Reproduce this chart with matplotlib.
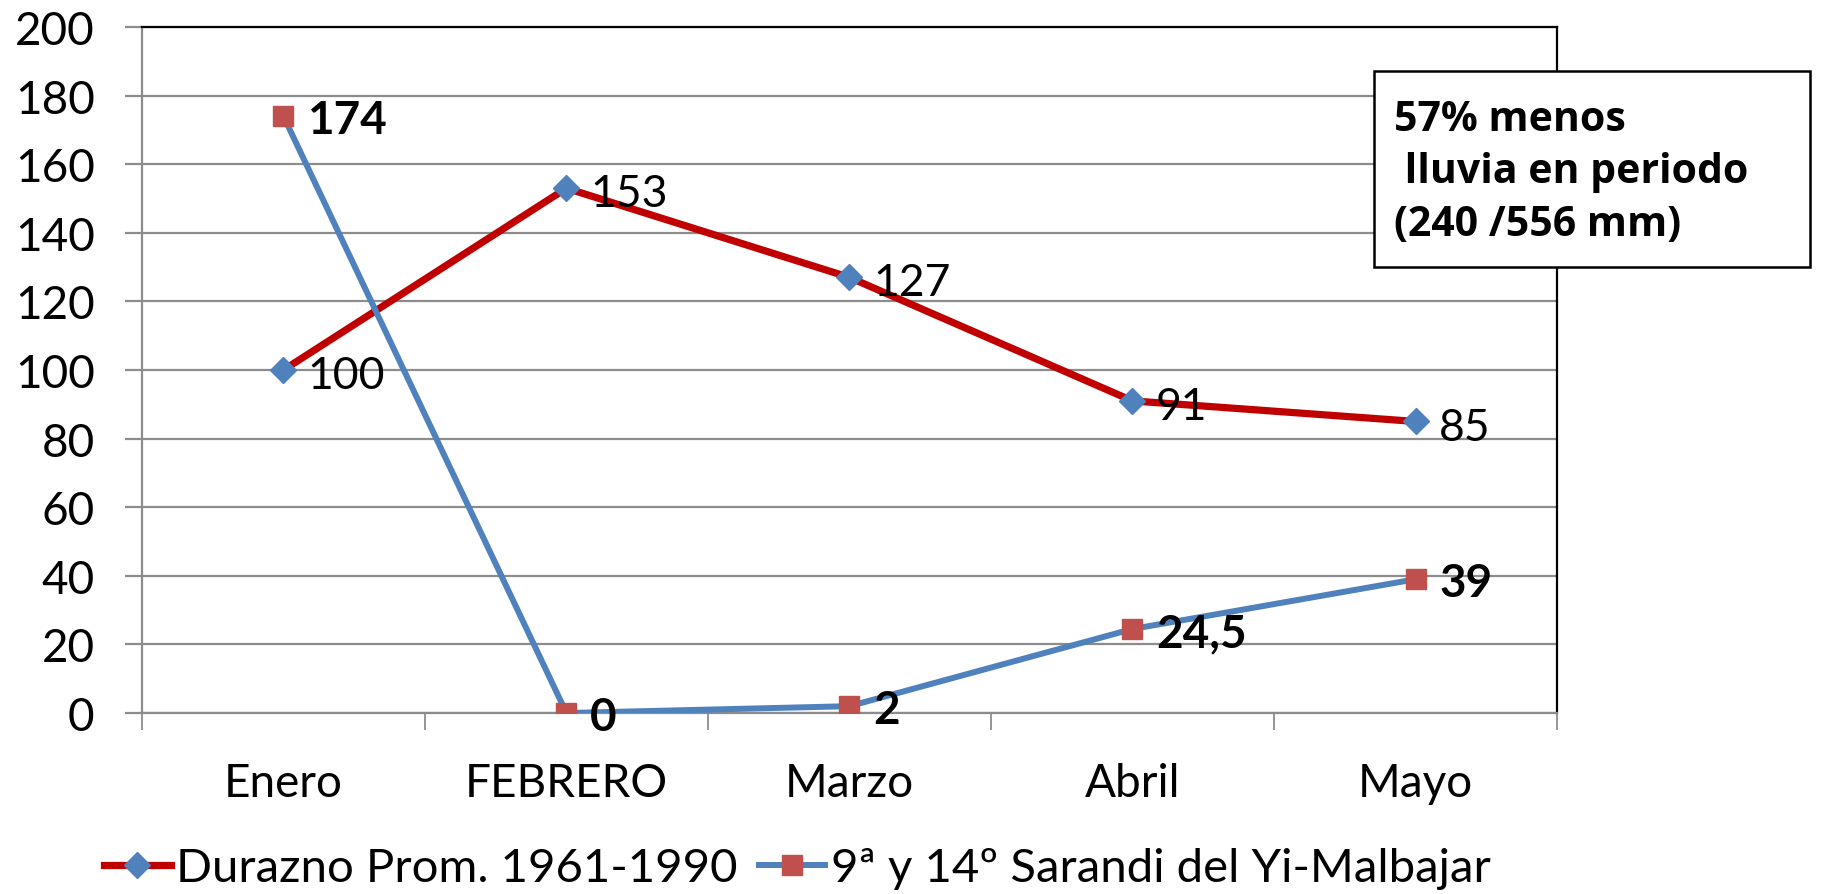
import matplotlib.pyplot as plt
from matplotlib.lines import Line2D
from matplotlib.patches import Rectangle
import numpy as np

plt.rcParams['font.family'] = ['Lato', 'DejaVu Sans']

# datos
meses = ['Enero', 'FEBRERO', 'Marzo', 'Abril', 'Mayo']
durazno = [100, 153, 127, 91, 85]
sarandi = [174, 0, 2, 24.5, 39]
etiq_durazno = ['100', '153', '127', '91', '85']
etiq_sarandi = ['174', '0', '2', '24,5', '39']
yticks = [0, 20, 40, 60, 80, 100, 120, 140, 160, 180, 200]

fig = plt.figure(figsize=(18.29, 8.95), dpi=100)
ax = fig.add_axes([0.0776, 0.2022, 0.7737, 0.7665])

x = np.arange(len(meses))

ax.plot(x, durazno, color='#C00000', lw=5.2, marker='D', ms=13,
        mfc='#4F81BD', mec='#4F81BD', zorder=3)
ax.plot(x, sarandi, color='#4F81BD', lw=4.3, marker='s', ms=14,
        mfc='#C0504D', mec='#C0504D', zorder=4)

for xi, v, t in zip(x, durazno, etiq_durazno):
    ax.annotate(t, (xi, v), xytext=(17, -4), textcoords='offset points',
                ha='left', va='center', fontsize=32, zorder=5)
for xi, v, t in zip(x, sarandi, etiq_sarandi):
    ax.annotate(t, (xi, v), xytext=(17, -3), textcoords='offset points',
                ha='left', va='center', fontsize=33, fontweight='bold', zorder=5)

ax.set_xlim(-0.5, len(meses) - 0.5)
ax.set_ylim(0, 200)
ax.set_yticks(yticks)
ax.yaxis.grid(True, color='#8C8C8C', lw=1.6)
ax.set_axisbelow(True)

ax.set_xticks(x)
ax.set_xticklabels(meses)
ax.set_xticks(np.arange(-0.5, len(meses)), minor=True)
ax.tick_params(axis='x', which='major', length=0, pad=35, labelsize=33)
ax.tick_params(axis='x', which='minor', length=12, width=1.3, color='#8C8C8C')
ax.tick_params(axis='y', length=12, width=1.6, color='#8C8C8C', pad=22, labelsize=33)

for s in ['left', 'bottom']:
    ax.spines[s].set_color('#8C8C8C')
    ax.spines[s].set_linewidth(1.6)
for s in ['top', 'right']:
    ax.spines[s].set_color('black')
    ax.spines[s].set_linewidth(1.6)

handles = [
    Line2D([], [], color='#C00000', lw=5.2, marker='D', ms=13,
           mfc='#4F81BD', mec='#4F81BD'),
    Line2D([], [], color='#4F81BD', lw=4.3, marker='s', ms=14,
           mfc='#C0504D', mec='#C0504D'),
]
fig.legend(handles, ['Durazno Prom. 1961-1990', '9ª y 14º Sarandi del Yi-Malbajar'],
           loc='center', bbox_to_anchor=(0.436, 0.029), ncol=2, frameon=False,
           fontsize=34, handlelength=1.4, handletextpad=0.12, columnspacing=0.45)

fig.patches.append(Rectangle((0.7512, 0.7006), 0.2384, 0.219, transform=fig.transFigure,
                             fc='white', ec='black', lw=1.8, zorder=10))
fig.text(0.762, 0.888, '57% menos\n lluvia en periodo\n(240 /556 mm)',
         family=['Open Sans', 'DejaVu Sans'], fontsize=29.5, fontweight='bold',
         ha='left', va='top', linespacing=1.36, zorder=11)

fig.savefig('out.png', dpi=100)
